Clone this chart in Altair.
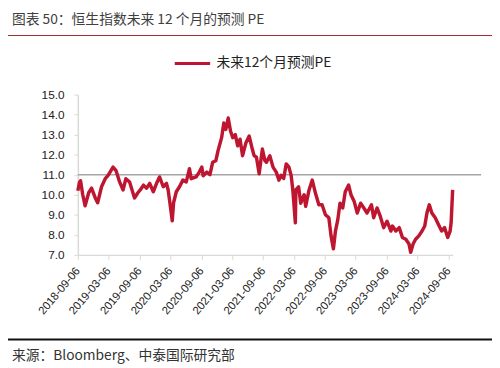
import altair as alt
import pandas as pd

# ---- data ----
dates = [
    "2018-09-06", "2018-09-15", "2018-09-22", "2018-10-05", "2018-10-19", "2018-11-09",
    "2018-11-26", "2018-12-18", "2019-01-01", "2019-01-24", "2019-02-15", "2019-03-04",
    "2019-04-02", "2019-04-20", "2019-05-11", "2019-05-31", "2019-06-17", "2019-07-09",
    "2019-08-07", "2019-08-27", "2019-09-10", "2019-09-29", "2019-10-18", "2019-11-05",
    "2019-11-26", "2019-12-19", "2020-01-02", "2020-01-24", "2020-02-12", "2020-02-22",
    "2020-03-06", "2020-03-17", "2020-03-25", "2020-04-10", "2020-04-29", "2020-05-19",
    "2020-06-08", "2020-06-27", "2020-07-07", "2020-08-05", "2020-08-24", "2020-09-08",
    "2020-09-16", "2020-10-07", "2020-10-26", "2020-11-11", "2020-11-30", "2020-12-13",
    "2021-01-03", "2021-01-16", "2021-01-28", "2021-02-11", "2021-02-25", "2021-03-10",
    "2021-03-25", "2021-04-08", "2021-04-22", "2021-05-07", "2021-05-27", "2021-06-15",
    "2021-07-01", "2021-07-14", "2021-07-28", "2021-08-13", "2021-09-01", "2021-09-16",
    "2021-09-25", "2021-10-15", "2021-11-03", "2021-11-22", "2021-12-08", "2021-12-21",
    "2022-01-05", "2022-01-20", "2022-02-05", "2022-02-18", "2022-02-28", "2022-03-15",
    "2022-03-18", "2022-04-03", "2022-04-16", "2022-05-06", "2022-05-15", "2022-06-04",
    "2022-06-23", "2022-07-12", "2022-08-01", "2022-08-20", "2022-09-09", "2022-09-29",
    "2022-10-12", "2022-10-26", "2022-11-07", "2022-11-21", "2022-12-04", "2022-12-20",
    "2023-01-04", "2023-01-24", "2023-02-07", "2023-02-26", "2023-03-16", "2023-04-05",
    "2023-04-24", "2023-05-13", "2023-06-08", "2023-06-21", "2023-07-11", "2023-07-30",
    "2023-08-19", "2023-09-08", "2023-10-01", "2023-10-10", "2023-10-30", "2023-11-19",
    "2023-12-08", "2023-12-28", "2024-01-16", "2024-01-26", "2024-02-09", "2024-02-24",
    "2024-03-14", "2024-04-02", "2024-04-18", "2024-05-01", "2024-05-15", "2024-05-30",
    "2024-06-19", "2024-07-08", "2024-07-27", "2024-08-13", "2024-09-01", "2024-09-15",
    "2024-09-21", "2024-09-30",
]
pe = [
    10.2, 10.6, 10.7, 10.0, 9.45, 10.1,
    10.33, 9.84, 9.6, 10.4, 10.8, 10.97,
    11.38, 11.2, 10.64, 10.24, 10.8, 10.64,
    9.84, 10.1, 10.24, 10.48, 10.33, 10.57,
    10.15, 10.64, 10.89, 10.4, 10.57, 10.24,
    9.42, 8.7, 9.6, 10.15, 10.4, 10.73,
    10.64, 11.3, 10.8, 10.89, 11.13, 11.38,
    10.95, 11.13, 11.0, 11.62, 11.7, 12.2,
    12.85, 13.58, 13.26, 13.83, 13.17, 12.85,
    13.0, 12.44, 12.77, 11.95, 12.6, 12.93,
    12.36, 11.95, 11.87, 11.05, 12.28, 11.7,
    11.62, 11.95, 11.38, 11.13, 10.73, 10.97,
    10.81, 11.54, 11.38, 10.97, 10.24, 8.6,
    10.24, 10.4, 9.58, 10.0, 9.42, 10.24,
    10.73, 10.07, 9.5, 9.5, 9.0, 8.85,
    7.95, 7.3, 8.19, 8.76, 9.58, 9.34,
    10.15, 10.48, 10.0, 9.66, 9.09, 9.58,
    9.34, 9.09, 9.5, 8.85, 9.34, 8.93,
    8.36, 8.68, 8.19, 8.44, 8.19, 8.36,
    7.87, 7.78, 7.54, 7.13, 7.54, 7.78,
    7.95, 8.19, 8.44, 9.09, 9.5, 9.09,
    8.85, 8.52, 8.19, 8.36, 7.87, 8.19,
    8.6, 10.24,
]
series_name = "未来12个月预测PE"
tick_dates = [(2018, 9), (2019, 3), (2019, 9), (2020, 3), (2020, 9), (2021, 3), (2021, 9),
              (2022, 3), (2022, 9), (2023, 3), (2023, 9), (2024, 3), (2024, 9)]
y_ticks = [7, 8, 9, 10, 11, 12, 13, 14, 15]
ref_value = [11]
title_text = "图表 50：恒生指数未来 12 个月的预测 PE"
source_text = "来源：Bloomberg、中泰国际研究部"

df = pd.DataFrame({"date": dates, "pe": pe, "series": series_name})

CJK = "Noto Sans CJK SC"
RED = "#BE1630"

y_scale = alt.Scale(domain=[7, 15], nice=False, zero=False)
y_axis = alt.Axis(
    values=y_ticks, format=".1f", labelFontSize=12, labelFont="Liberation Sans",
    labelColor="#222", labelPadding=10, tickSize=4, tickColor="#D9D9D9",
    domainColor="#D9D9D9", domainWidth=1.5, grid=False, title=None,
    labelOverlap=False, tickCount=9,
)

x_enc = alt.X(
    "date:T",
    scale=alt.Scale(
        type="utc",
        domain=[alt.DateTime(year=2018, month=9, date=6, utc=True),
                alt.DateTime(year=2024, month=9, date=30, utc=True)],
    ),
    axis=alt.Axis(
        values=[alt.DateTime(year=y, month=m, date=6, utc=True) for y, m in tick_dates],
        labelExpr="utcFormat(datum.value, '%Y-%m-%d')",
        labelAngle=310, labelAlign="right", labelBaseline="middle",
        labelFontSize=11.5, labelFont="Liberation Sans", labelColor="#222",
        labelPadding=9, tickSize=5, tickColor="#D9D9D9", domainColor="#D9D9D9",
        domainWidth=1.5, grid=False, title=None, labelOverlap=False,
    ),
)

line = alt.Chart(df).mark_line(strokeWidth=3.5, strokeJoin="round").encode(
    x=x_enc,
    y=alt.Y("pe:Q", scale=y_scale, axis=y_axis),
    color=alt.Color(
        "series:N",
        scale=alt.Scale(domain=[series_name], range=[RED]),
        legend=alt.Legend(
            title=None, orient="none", legendX=97, legendY=-51,
            symbolType="stroke", symbolSize=1296, symbolStrokeWidth=3,
            labelFontSize=14, labelFont=CJK, labelColor="#222", labelOffset=5,
        ),
    ),
)

ref = alt.Chart(pd.DataFrame({"pe": ref_value})).mark_rule(
    color="#A6A6A6", strokeWidth=1.5
).encode(y=alt.Y("pe:Q", scale=y_scale, axis=y_axis), x=alt.value(0), x2=alt.value(410))

title = alt.Chart(pd.DataFrame({"t": [title_text]})).mark_text(
    align="left", baseline="middle", fontSize=14, font=CJK, color="#404040"
).encode(text="t:N", x=alt.value(-67), y=alt.value(-76))

title_rule = alt.Chart(pd.DataFrame({"k": [0]})).mark_rule(
    color="#A0282D", strokeWidth=1
).encode(x=alt.value(-79), x2=alt.value(421), y=alt.value(-60))

foot_rule = alt.Chart(pd.DataFrame({"k": [0]})).mark_rule(
    color="#111111", strokeWidth=1.8
).encode(x=alt.value(-79), x2=alt.value(421), y=alt.value(249))

source = alt.Chart(pd.DataFrame({"t": [source_text]})).mark_text(
    align="left", baseline="middle", fontSize=14, font=CJK, color="#333333"
).encode(text="t:N", x=alt.value(-67), y=alt.value(266))

chart = alt.layer(ref, line, title, title_rule, foot_rule, source).properties(
    width=381,
    height=163,
    autosize=alt.AutoSizeParams(type="none"),
    padding={"left": 71, "top": 85, "right": 40, "bottom": 112},
    background="white",
).configure_view(stroke=None)

chart.save("out.html", embed_options={"renderer": "svg", "actions": False})
